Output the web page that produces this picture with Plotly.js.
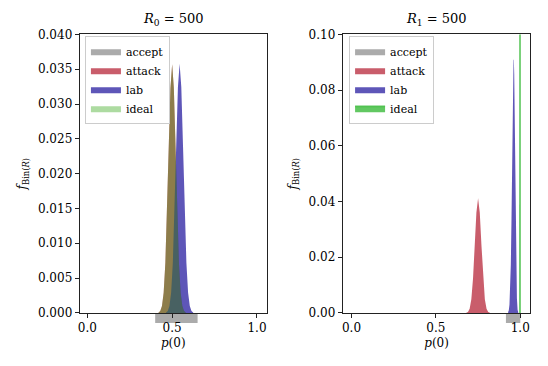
<!DOCTYPE html>
<html>
<head>
<meta charset="utf-8">
<script src="https://cdn.plot.ly/plotly-3.0.1.min.js"></script>
<style>html,body{margin:0;padding:0;background:#fff;}</style>
</head>
<body>
<div id="chart" style="width:548px;height:366px;"></div>
<script>
// ---- data ----
const panelTitles = ['<i>R</i><sub>0</sub> = 500', '<i>R</i><sub>1</sub> = 500'];
const seriesNames = ['accept', 'attack', 'lab', 'ideal'];

// left panel (R0 = 500)
const acceptL = [0.40, 0.65];
const attackL_x = [0.42,0.43,0.44,0.45,0.46,0.47,0.48,0.49,0.50,0.51,0.52,0.53,0.54,0.55,0.56,0.57,0.58];
const attackL_y = [0.00006,0.00027,0.0010,0.0029,0.0072,0.0145,0.0239,0.0323,0.0357,0.0323,0.0239,0.0145,0.0072,0.0029,0.0010,0.00027,0.00006];
const labL_x = [0.464,0.474,0.484,0.494,0.504,0.514,0.524,0.534,0.544,0.554,0.564,0.574,0.584,0.594,0.604,0.614,0.624];
const labL_y = [0.00006,0.00027,0.0010,0.0029,0.0072,0.0146,0.0240,0.0324,0.0358,0.0324,0.0240,0.0146,0.0072,0.0029,0.0010,0.00027,0.00006];
const idealL_x = [0.42,0.43,0.44,0.45,0.46,0.47,0.48,0.49,0.50,0.51,0.52,0.53,0.54,0.55,0.56,0.57,0.58];
const idealL_y = [0.00006,0.00027,0.0010,0.0029,0.0072,0.0145,0.0239,0.0323,0.0357,0.0323,0.0239,0.0145,0.0072,0.0029,0.0010,0.00027,0.00006];

// right panel (R1 = 500)
const acceptR = [0.915, 1.0];
const attackR_x = [0.68,0.69,0.70,0.71,0.72,0.73,0.74,0.75,0.76,0.77,0.78,0.79,0.80,0.81,0.82];
const attackR_y = [0.00006,0.00034,0.0015,0.0049,0.0124,0.0242,0.0361,0.0412,0.0361,0.0242,0.0124,0.0049,0.0015,0.00034,0.00006];
const labR_x = [0.928,0.932,0.936,0.940,0.944,0.948,0.952,0.956,0.958,0.960,0.962,0.964,0.968,0.972,0.976,0.980,0.984,0.988];
const labR_y = [0.0003,0.0010,0.0030,0.0078,0.0175,0.0341,0.0564,0.0786,0.0867,0.0910,0.0908,0.0859,0.0648,0.0380,0.0168,0.0053,0.0011,0.00015];
const idealR_x = [0.998, 1.0];
const idealR_y = [0, 1.0];

// ---- styling ----
const FONT = 'DejaVu Serif';
const cAccept = 'rgba(128,128,128,0.66)';
const cAttack = 'rgba(180,30,50,0.72)';
const cLab = 'rgba(40,30,160,0.75)';
const cIdealL = 'rgba(60,170,30,0.42)';
const cIdealR = 'rgba(70,190,70,0.85)';

function fillTrace(x, y, name, color, xa, ya, lg, lw) {
  return {
    type: 'scatter', x: x, y: y, name: name,
    mode: 'lines', fill: 'tozeroy', fillcolor: color,
    line: {width: lw || 0, color: color},
    xaxis: xa, yaxis: ya, legend: lg, hoverinfo: 'skip'
  };
}

const traces = [
  fillTrace(acceptL, [0, 0], seriesNames[0], cAccept, 'x', 'y', 'legend'),
  fillTrace(attackL_x, attackL_y, seriesNames[1], cAttack, 'x', 'y', 'legend'),
  fillTrace(labL_x, labL_y, seriesNames[2], cLab, 'x', 'y', 'legend'),
  fillTrace(idealL_x, idealL_y, seriesNames[3], cIdealL, 'x', 'y', 'legend'),
  fillTrace(acceptR, [0, 0], seriesNames[0], cAccept, 'x2', 'y2', 'legend2'),
  fillTrace(attackR_x, attackR_y, seriesNames[1], cAttack, 'x2', 'y2', 'legend2'),
  fillTrace(labR_x, labR_y, seriesNames[2], cLab, 'x2', 'y2', 'legend2'),
  fillTrace(idealR_x, idealR_y, seriesNames[3], cIdealR, 'x2', 'y2', 'legend2', 1.6)
];

const axisCommon = {
  showline: true, mirror: true, linecolor: '#222', linewidth: 1,
  ticks: 'outside', ticklen: 4, tickwidth: 1, tickcolor: '#222',
  showgrid: false, zeroline: false,
  tickfont: {family: FONT, size: 12, color: '#000'}
};
const xTitle = {text: '<i>p</i>(0)', font: {family: FONT, size: 12, color: '#000'}, standoff: 4};
const yTitle = {text: '<i>f</i><sub>Bin(<i>R</i>)</sub>', font: {family: FONT, size: 12, color: '#000'}, standoff: 8};

const layout = {
  width: 548, height: 366,
  margin: {l: 0, r: 0, t: 0, b: 0},
  paper_bgcolor: '#fff', plot_bgcolor: '#fff',
  font: {family: FONT, color: '#000'},
  xaxis: Object.assign({}, axisCommon, {domain: [0.1454, 0.4869], range: [-0.045, 1.058], dtick: 0.5, tick0: 0, tickformat: '.1f', title: xTitle, anchor: 'y'}),
  yaxis: Object.assign({}, axisCommon, {domain: [0.145, 0.906], range: [0, 0.04], dtick: 0.005, tick0: 0, tickformat: '.3f', title: yTitle, anchor: 'x'}),
  xaxis2: Object.assign({}, axisCommon, {domain: [0.6254, 0.9679], range: [-0.052, 1.06], dtick: 0.5, tick0: 0, tickformat: '.1f', title: xTitle, anchor: 'y2'}),
  yaxis2: Object.assign({}, axisCommon, {domain: [0.145, 0.906], range: [0, 0.1], dtick: 0.02, tick0: 0, tickformat: '.2f', title: yTitle, anchor: 'x2'}),
  legend: {x: 0.155, y: 0.902, xanchor: 'left', yanchor: 'top', bgcolor: 'rgba(255,255,255,0.8)', bordercolor: '#cccccc', borderwidth: 1, font: {family: FONT, size: 11}, tracegroupgap: 0},
  legend2: {x: 0.637, y: 0.902, xanchor: 'left', yanchor: 'top', bgcolor: 'rgba(255,255,255,0.8)', bordercolor: '#cccccc', borderwidth: 1, font: {family: FONT, size: 11}, tracegroupgap: 0},
  shapes: [
    {type: 'rect', xref: 'x', yref: 'y domain', x0: acceptL[0], x1: acceptL[1], y0: -0.036, y1: 0, fillcolor: cAccept, line: {width: 0}, layer: 'below'},
    {type: 'rect', xref: 'x2', yref: 'y2 domain', x0: acceptR[0], x1: acceptR[1], y0: -0.036, y1: 0, fillcolor: cAccept, line: {width: 0}, layer: 'below'}
  ],
  annotations: [
    {text: panelTitles[0], xref: 'x domain', yref: 'y domain', x: 0.5, y: 1, yshift: 4, xanchor: 'center', yanchor: 'bottom', showarrow: false, font: {family: FONT, size: 13, color: '#000'}},
    {text: panelTitles[1], xref: 'x2 domain', yref: 'y2 domain', x: 0.5, y: 1, yshift: 4, xanchor: 'center', yanchor: 'bottom', showarrow: false, font: {family: FONT, size: 13, color: '#000'}}
  ],
  showlegend: true
};

Plotly.newPlot('chart', traces, layout, {displayModeBar: false, staticPlot: true});
</script>
</body>
</html>
